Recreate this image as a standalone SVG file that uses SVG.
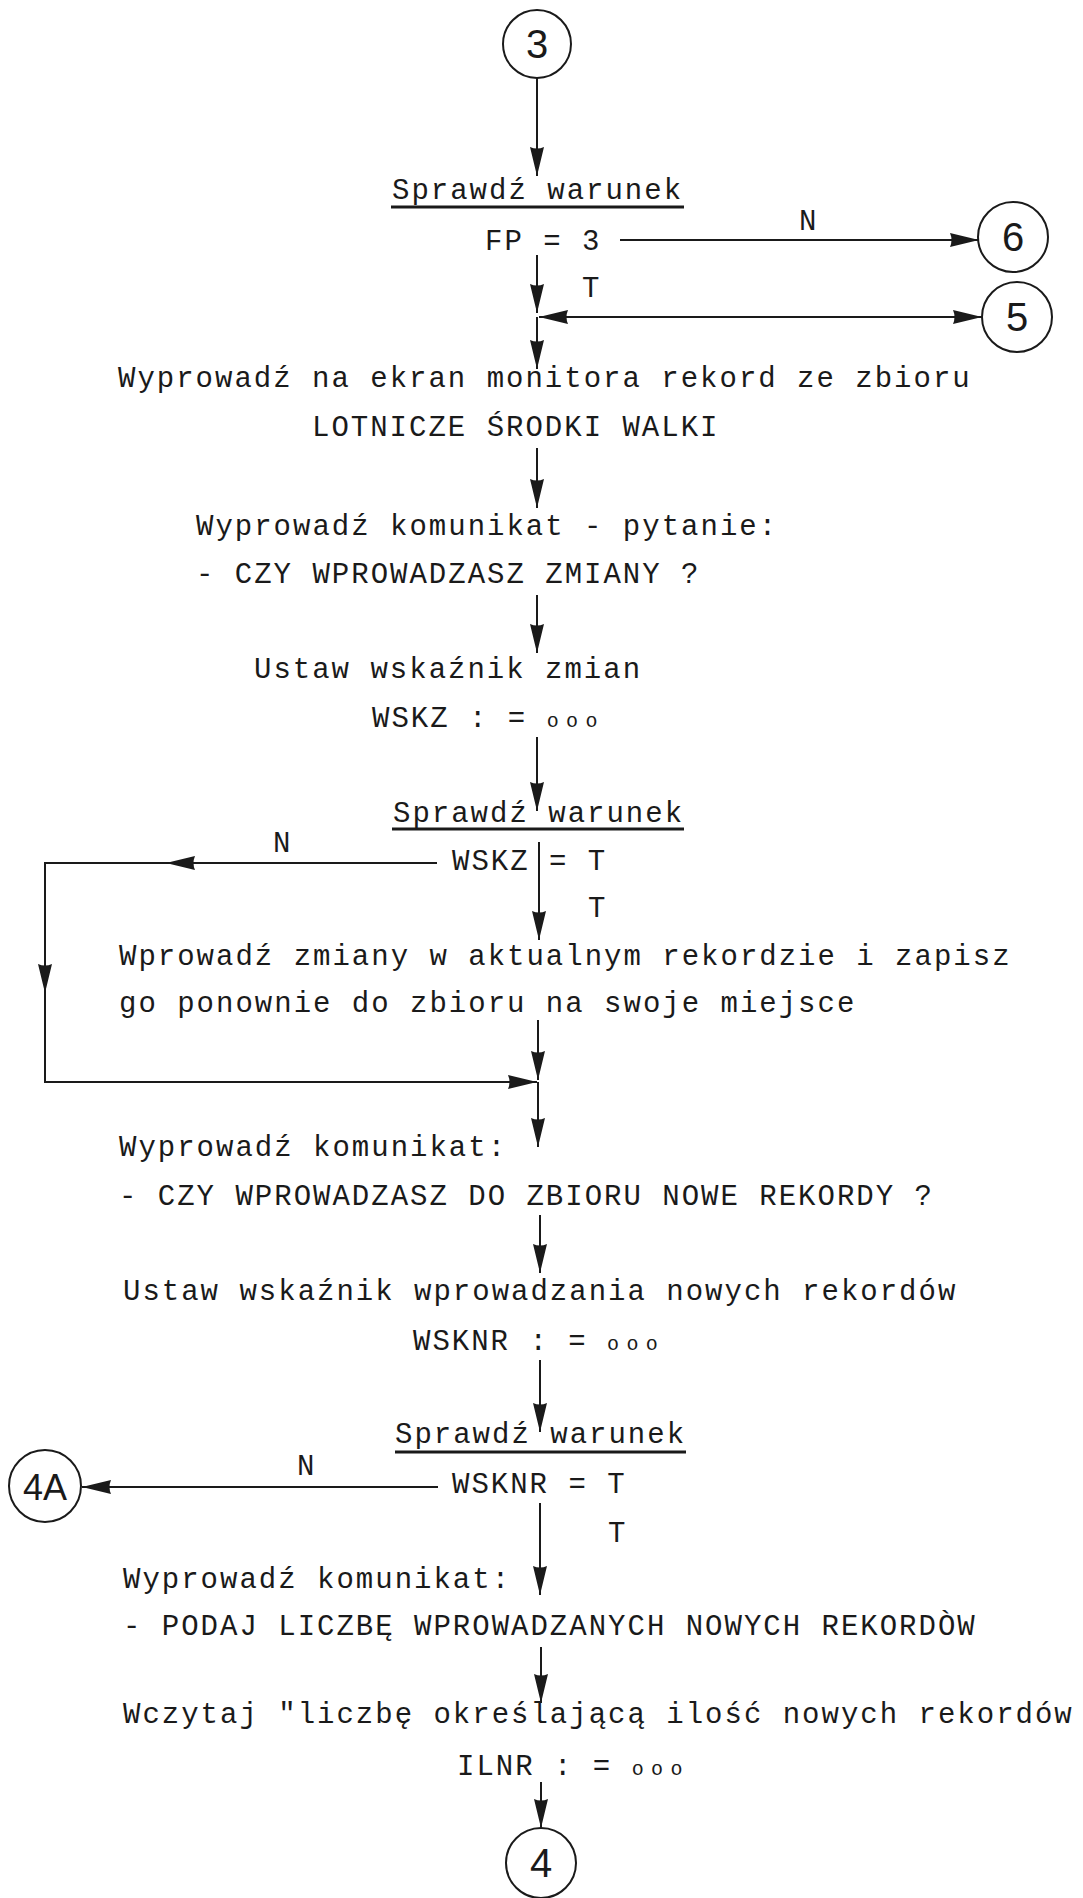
<svg xmlns="http://www.w3.org/2000/svg" width="1083" height="1898" viewBox="0 0 1083 1898">
<style>
.t{font-family:"Liberation Mono","DejaVu Sans Mono",monospace;font-size:29px;letter-spacing:2px;fill:#1a1a1a}
.o{font-size:20px;letter-spacing:7.4px}
.c{fill:none;stroke:#1a1a1a;stroke-width:2}
.cl{font-family:"Liberation Sans","DejaVu Sans",sans-serif;font-size:40px;fill:#1a1a1a;text-anchor:middle}
.ln{fill:none;stroke:#1a1a1a;stroke-width:2}
.ul{stroke:#1a1a1a;stroke-width:2.8}
</style>
<defs>
<marker id="ah" markerUnits="userSpaceOnUse" markerWidth="30" markerHeight="16" refX="29" refY="8" orient="auto-start-reverse" viewBox="0 0 30 16">
<path d="M0,1 L29,8 L0,15 Q3,8 0,1 z" fill="#1a1a1a"/>
</marker>
</defs>
<rect width="1083" height="1898" fill="#ffffff"/>

<g id="connectors">
<path class="ln" d="M537,78 L537,176" marker-end="url(#ah)"/>
<path class="ln" d="M620,240 L979,240" marker-end="url(#ah)"/>
<path class="ln" d="M537,255 L537,313" marker-end="url(#ah)"/>
<path class="ln" d="M982,317 L539,317" marker-start="url(#ah)" marker-end="url(#ah)"/>
<path class="ln" d="M537,317 L537,369" marker-end="url(#ah)"/>
<path class="ln" d="M537,448 L537,508" marker-end="url(#ah)"/>
<path class="ln" d="M537,595 L537,653" marker-end="url(#ah)"/>
<path class="ln" d="M537,737 L537,811" marker-end="url(#ah)"/>
<path class="ln" d="M539,842 L539,940" marker-end="url(#ah)"/>
<path class="ln" d="M437,863 L166,863" marker-end="url(#ah)"/>
<path class="ln" d="M166,863 L45,863 L45,993" marker-end="url(#ah)"/>
<path class="ln" d="M45,993 L45,1082 L537,1082" marker-end="url(#ah)"/>
<path class="ln" d="M538,1020 L538,1080" marker-end="url(#ah)"/>
<path class="ln" d="M538,1082 L538,1147" marker-end="url(#ah)"/>
<path class="ln" d="M540,1215 L540,1273" marker-end="url(#ah)"/>
<path class="ln" d="M540,1360 L540,1432" marker-end="url(#ah)"/>
<path class="ln" d="M438,1487 L82,1487" marker-end="url(#ah)"/>
<path class="ln" d="M540,1503 L540,1595" marker-end="url(#ah)"/>
<path class="ln" d="M541,1647 L541,1703" marker-end="url(#ah)"/>
<path class="ln" d="M541,1782 L541,1828" marker-end="url(#ah)"/>
</g>

<g id="conn3"><circle class="c" cx="537" cy="44" r="34"/><text class="cl" x="537" y="58">3</text></g>
<g id="conn6"><circle class="c" cx="1013" cy="237" r="35"/><text class="cl" x="1013" y="251">6</text></g>
<g id="conn5"><circle class="c" cx="1017" cy="317" r="35"/><text class="cl" x="1017" y="331">5</text></g>
<g id="conn4A"><circle class="c" cx="45" cy="1486" r="36"/><text class="cl" x="45" y="1500" style="font-size:36px">4A</text></g>
<g id="conn4"><circle class="c" cx="541" cy="1863" r="35"/><text class="cl" x="541" y="1877">4</text></g>

<g id="dec1">
<text class="t" x="392" y="199">Sprawdź warunek</text>
<line class="ul" x1="391" y1="207" x2="684" y2="207"/>
<text class="t" x="485" y="250">FP = 3</text>
<text class="t" x="799" y="230">N</text>
<text class="t" x="582" y="297">T</text>
</g>
<g id="out1">
<text class="t" x="118" y="387">Wyprowadź na ekran monitora rekord ze zbioru</text>
<text class="t" x="312" y="436">LOTNICZE ŚRODKI WALKI</text>
</g>
<g id="msg1">
<text class="t" x="196" y="535">Wyprowadź komunikat - pytanie:</text>
<text class="t" x="196" y="583">- CZY WPROWADZASZ ZMIANY ?</text>
</g>
<g id="set1">
<text class="t" x="254" y="678">Ustaw wskaźnik zmian</text>
<text class="t" x="372" y="727">WSKZ : = <tspan class="o">ooo</tspan></text>
</g>
<g id="dec2">
<text class="t" x="393" y="822">Sprawdź warunek</text>
<line class="ul" x1="392" y1="829" x2="684" y2="829"/>
<text class="t" x="273" y="852">N</text>
<text class="t" x="452" y="870">WSKZ = T</text>
<text class="t" x="588" y="917">T</text>
</g>
<g id="chg">
<text class="t" x="119" y="965">Wprowadź zmiany w aktualnym rekordzie i zapisz</text>
<text class="t" x="119" y="1012">go ponownie do zbioru na swoje miejsce</text>
</g>
<g id="msg2">
<text class="t" x="119" y="1156">Wyprowadź komunikat:</text>
<text class="t" x="119" y="1205">- CZY WPROWADZASZ DO ZBIORU NOWE REKORDY ?</text>
</g>
<g id="set2">
<text class="t" x="123" y="1300">Ustaw wskaźnik wprowadzania nowych rekordów</text>
<text class="t" x="413" y="1350">WSKNR : = <tspan class="o">ooo</tspan></text>
</g>
<g id="dec3">
<text class="t" x="395" y="1443">Sprawdź warunek</text>
<line class="ul" x1="395" y1="1452" x2="686" y2="1452"/>
<text class="t" x="297" y="1475">N</text>
<text class="t" x="452" y="1493">WSKNR = T</text>
<text class="t" x="608" y="1542">T</text>
</g>
<g id="msg3">
<text class="t" x="123" y="1588">Wyprowadź komunikat:</text>
<text class="t" x="123" y="1635">- PODAJ LICZBĘ WPROWADZANYCH NOWYCH REKORDÒW</text>
</g>
<g id="read">
<text class="t" x="123" y="1723">Wczytaj "liczbę określającą ilość nowych rekordów</text>
<text class="t" x="457" y="1775">ILNR : = <tspan class="o">ooo</tspan></text>
</g>
</svg>
